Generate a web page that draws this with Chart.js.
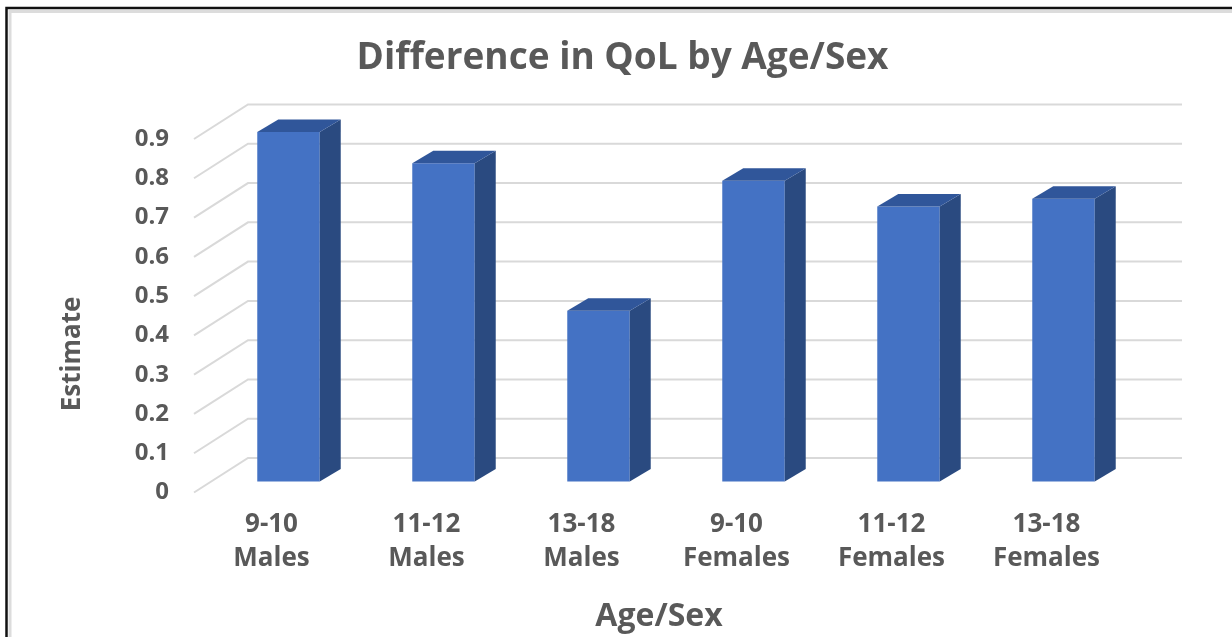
<!DOCTYPE html>
<html>
<head>
<meta charset="utf-8">
<title>Difference in QoL by Age/Sex</title>
<script src="https://cdn.jsdelivr.net/npm/chart.js@4.4.1/dist/chart.umd.min.js"></script>
<style>
  body { margin: 0; background: #fff; }
  canvas { display: block; }
</style>
</head>
<body>
<canvas id="myChart" width="1232" height="637"></canvas>
<script>
const labels = [
  ["9-10", "Males"],
  ["11-12", "Males"],
  ["13-18", "Males"],
  ["9-10", "Females"],
  ["11-12", "Females"],
  ["13-18", "Females"]
];
const estimates = [0.89, 0.81, 0.435, 0.766, 0.70, 0.72];
const yTickLabels = ["0", "0.1", "0.2", "0.3", "0.4", "0.5", "0.6", "0.7", "0.8", "0.9"];

const grey = '#595959';
const font = '"Open Sans"';

// fake 3d: bar plane sits behind the front edge, back wall further back
const barShift = { x: 17, y: -11 };
const wallShift = { x: 54, y: -34.5 };
const depth = { x: 21, y: -12.5 };

const data = {
  labels: labels,
  datasets: [{
    label: 'Estimate',
    data: estimates,
    backgroundColor: '#4472c4',
    borderWidth: 0,
    barPercentage: 0.403,
    categoryPercentage: 1,
    clip: false
  }]
};

// frame + back wall grid
const wallPlugin = {
  id: 'wall',
  beforeDraw(chart) {
    const ctx = chart.ctx;
    ctx.save();
    ctx.fillStyle = '#fff';
    ctx.fillRect(0, 0, chart.width, chart.height);
    ctx.strokeStyle = '#dcdcdc';
    ctx.lineWidth = 3;
    ctx.beginPath();
    ctx.moveTo(10, chart.height);
    ctx.lineTo(10, 11.5);
    ctx.lineTo(chart.width, 11.5);
    ctx.stroke();
    ctx.strokeStyle = '#111';
    ctx.lineWidth = 2.5;
    ctx.beginPath();
    ctx.moveTo(6.5, chart.height);
    ctx.lineTo(6.5, 8);
    ctx.lineTo(chart.width, 8);
    ctx.stroke();
    ctx.restore();
  },
  beforeDatasetsDraw(chart) {
    const ctx = chart.ctx;
    const y = chart.scales.y;
    const area = chart.chartArea;
    ctx.save();
    ctx.strokeStyle = '#d9d9d9';
    ctx.lineWidth = 2;
    y.ticks.forEach(t => {
      const py = y.getPixelForValue(t.value);
      ctx.beginPath();
      ctx.moveTo(area.left, py);
      ctx.lineTo(area.left + wallShift.x, py + wallShift.y);
      ctx.lineTo(area.right + wallShift.x + 4, py + wallShift.y);
      ctx.stroke();
    });
    ctx.restore();
    // y title, sits a bit lower than the axis middle
    ctx.save();
    ctx.translate(73, 354);
    ctx.rotate(-Math.PI / 2);
    ctx.fillStyle = grey;
    ctx.font = 'bold 26px ' + font;
    ctx.textAlign = 'center';
    ctx.textBaseline = 'middle';
    ctx.fillText('Estimate', 0, 0);
    ctx.restore();
    // bars are drawn shifted into the bar plane
    ctx.save();
    ctx.translate(barShift.x, barShift.y);
  },
  afterDatasetsDraw(chart) {
    const ctx = chart.ctx;
    chart.getDatasetMeta(0).data.forEach(bar => {
      const p = bar.getProps(['x', 'y', 'base', 'width'], true);
      const l = p.x - p.width / 2, r = p.x + p.width / 2;
      // side
      ctx.fillStyle = '#2a4a80';
      ctx.beginPath();
      ctx.moveTo(r, p.y);
      ctx.lineTo(r + depth.x, p.y + depth.y);
      ctx.lineTo(r + depth.x, p.base + depth.y);
      ctx.lineTo(r, p.base);
      ctx.closePath();
      ctx.fill();
      // top
      ctx.fillStyle = '#30569a';
      ctx.beginPath();
      ctx.moveTo(l, p.y);
      ctx.lineTo(l + depth.x, p.y + depth.y);
      ctx.lineTo(r + depth.x, p.y + depth.y);
      ctx.lineTo(r, p.y);
      ctx.closePath();
      ctx.fill();
    });
    ctx.restore();
  }
};

//config
const config = {
  type: 'bar',
  data: data,
  options: {
    responsive: false,
    animation: false,
    layout: { padding: { left: 13, right: 0, top: 0, bottom: 0 } },
    plugins: {
      legend: { display: false },
      tooltip: { enabled: false },
      title: {
        display: true,
        text: 'Difference in QoL by Age/Sex',
        color: grey,
        font: { family: font, size: 37, weight: 'bold', lineHeight: 1.2 },
        padding: { top: 36, bottom: 58.6 }
      }
    },
    scales: {
      x: {
        grid: { display: false, drawTicks: false },
        border: { display: false },
        ticks: {
          color: grey,
          padding: 15,
          maxRotation: 0,
          font: { family: font, size: 26, weight: 'bold', lineHeight: '34px' }
        },
        title: {
          display: true,
          text: 'Age/Sex',
          color: grey,
          font: { family: font, size: 32, weight: 'bold', lineHeight: 1.2 },
          padding: { top: 0, bottom: 1 }
        },
        afterFit(scale) { scale.height = 144.5; }
      },
      y: {
        min: 0,
        max: 0.9,
        grid: { display: false, drawTicks: false },
        border: { display: false },
        ticks: {
          stepSize: 0.1,
          color: grey,
          padding: 25,
          font: { family: font, size: 24, weight: 'bold' },
          callback: (v, i) => yTickLabels[i]
        },
        afterFit(scale) { scale.width = 181; }
      },
      // empty right axis, only keeps room on the right like the original
      y2: {
        position: 'right',
        min: 0,
        max: 1,
        grid: { display: false, drawTicks: false },
        border: { display: false },
        ticks: { display: false },
        afterFit(scale) { scale.width = 108; }
      }
    }
  },
  plugins: [wallPlugin]
};

// render
var myChart = new Chart(document.getElementById('myChart'), config);
</script>
</body>
</html>
